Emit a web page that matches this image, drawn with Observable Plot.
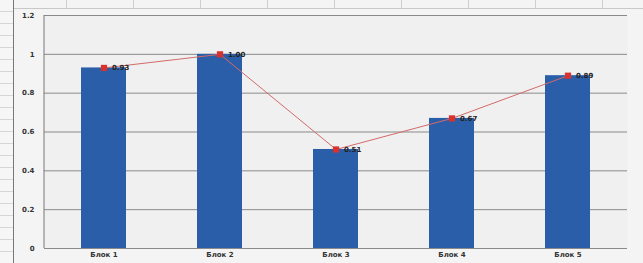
<!DOCTYPE html>
<html><head><meta charset="utf-8">
<script src="https://cdn.jsdelivr.net/npm/d3@7"></script>
<script src="https://cdn.jsdelivr.net/npm/@observablehq/plot@0.6"></script>
<style>
html,body{margin:0;padding:0;width:643px;height:263px;overflow:hidden;}
body{background:#f4f4f4;
background-image:
 linear-gradient(#c8c8c8,#c8c8c8),
 repeating-linear-gradient(to right, transparent 0 66px, #cfcfcf 66px 67px);
background-size:643px 1px, 643px 9px;
background-position:0 8px, 0 0;
background-repeat:no-repeat;}
#left{position:absolute;left:0;top:0;width:13px;height:263px;
background:repeating-linear-gradient(to bottom,#f6f6f6 0 11px,#d6d6d6 11px 12px);border-right:1px solid #777;}
#chart{position:absolute;left:0;top:0;}
</style></head>
<body><div id="left"></div><div id="chart"></div>
<script>
const categories = ["Блок 1","Блок 2","Блок 3","Блок 4","Блок 5"];
const values = [0.93, 1.00, 0.51, 0.67, 0.89];
const labels = ["0.93","1.00","0.51","0.67","0.89"];
const yTicks = [0, 0.2, 0.4, 0.6, 0.8, 1, 1.2];
const data = categories.map((c,i)=>({cat:c, v:values[i], label:labels[i]}));

const chart = Plot.plot({
  width: 643, height: 263,
  marginLeft: 44, marginRight: 16, marginTop: 15, marginBottom: 15,
  style:{background:"transparent", fontFamily:"DejaVu Sans", fontSize:"7px", color:"#333"},
  x:{domain:categories, paddingInner:0.615, paddingOuter:0.3075, align:0.5, label:null},
  y:{domain:[0,1.2], ticks:yTicks, tickFormat:d=>String(d), label:null},
  marks:[
    Plot.frame({fill:"#f0f0f0", stroke:null}),
    Plot.gridY(yTicks,{stroke:"#8a8a8a", strokeOpacity:1, strokeWidth:1}),
    Plot.barY(data,{x:"cat", y:"v", fill:"#2b5ea8"}),
    Plot.lineY(data,{x:"cat", y:"v", stroke:"#d46a6a", strokeWidth:1}),
    Plot.dot(data,{x:"cat", y:"v", symbol:"square", r:3.5, fill:"#d9322e", stroke:null}),
    Plot.text(data,{x:"cat", y:"v", text:"label", dx:8, textAnchor:"start", fill:"#222", fontWeight:"bold", fontSize:7}),
    Plot.axisY({ticks:yTicks, tickFormat:d=>String(d), tickSize:0, tickPadding:10, fontWeight:"bold"}),
    Plot.axisX({tickSize:0, tickPadding:4, fontWeight:"bold"})
  ]
});
document.getElementById("chart").append(chart);
d3.select(chart).append("line").attr("x1",44).attr("x2",44).attr("y1",15).attr("y2",248).attr("stroke","#777");
</script></body></html>
